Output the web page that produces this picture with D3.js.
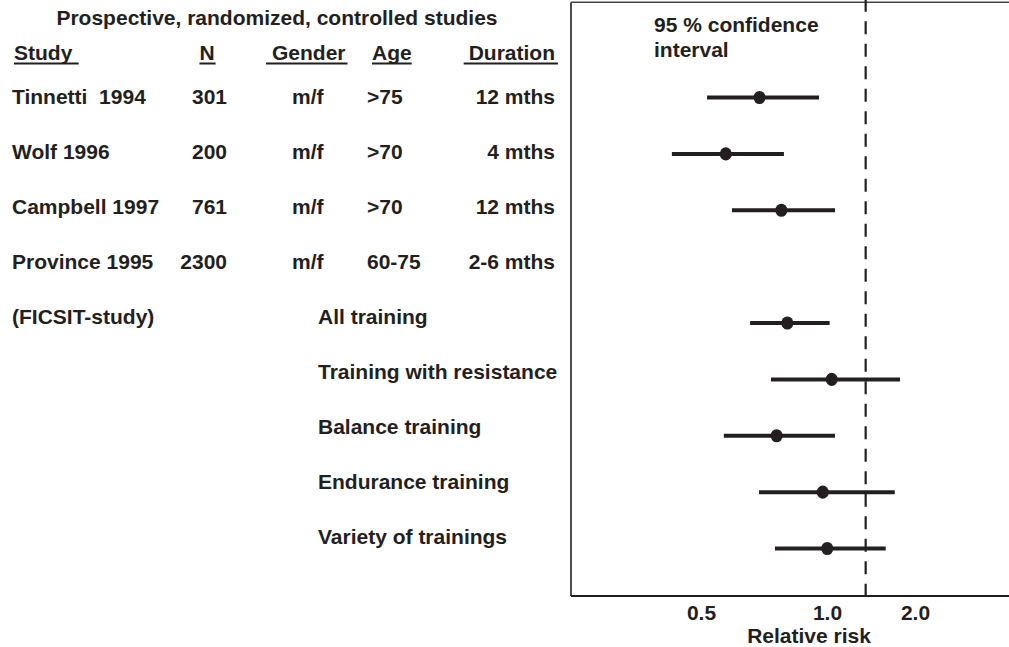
<!DOCTYPE html>
<html>
<head>
<meta charset="utf-8">
<script src="https://cdn.jsdelivr.net/npm/d3@7"></script>
<style>
  html, body { margin: 0; padding: 0; background: #fff; }
  svg text { font-family: "Liberation Sans", Arial, Helvetica, sans-serif; font-weight: bold; font-size: 21px; fill: #231f20; white-space: pre; }
</style>
</head>
<body>
<svg id="chart" width="1009" height="647"></svg>
<script>
// ---------- data ----------
const title = "Prospective, randomized, controlled studies";
const headers = ["Study", "N", "Gender", "Age", "Duration"];
const studies = ["Tinnetti  1994", "Wolf 1996", "Campbell 1997", "Province 1995"];
const nValues = ["301", "200", "761", "2300"];
const genders = ["m/f", "m/f", "m/f", "m/f"];
const ages = [">75", ">70", ">70", "60-75"];
const durations = ["12 mths", "4 mths", "12 mths", "2-6 mths"];
const subgroupNote = "(FICSIT-study)";
const subgroups = ["All training", "Training with resistance", "Balance training", "Endurance training", "Variety of trainings"];

// estimates shown in the forest plot (Province 1995 itself has no bar, its subgroups do)
const ciRows = ["Tinnetti  1994", "Wolf 1996", "Campbell 1997", "All training", "Training with resistance", "Balance training", "Endurance training", "Variety of trainings"];
const rr    = [0.690, 0.573, 0.778, 0.804, 1.038, 0.758, 0.977, 1.002];
const lower = [0.517, 0.426, 0.593, 0.655, 0.735, 0.567, 0.688, 0.751];
const upper = [0.957, 0.789, 1.065, 1.021, 1.777, 1.065, 1.705, 1.588];
const refValue = 1.356;
const tickValues = [0.5, 1.0, 2.0];
const ciLabelLines = ["95 % confidence", "interval"];
const xAxisTitle = "Relative risk";

// ---------- layout ----------
const W = 1009, H = 647;
const ink = "#231f20";
const panel = { left: 571, top: 2.3, bottom: 596, right: W };
const svg = d3.select("#chart");

const rows = studies.concat(subgroups);
const tableY = d3.scalePoint().domain(rows).range([104, 544]);
const ciY = d3.scalePoint().domain(rows).range([97.5, 548.5]);
// the printed axis is not evenly logarithmic: piecewise log scale through the tick labels
const x = d3.scaleLog().domain(tickValues).range([701, 827, 915]);

// ---------- table ----------
svg.append("text").attr("x", 277).attr("y", 25).attr("text-anchor", "middle").text(title);

const headerCols = [
  { x: 14, anchor: "start", padL: 0, padR: 6 },
  { x: 207, anchor: "middle", padL: 0, padR: 1 },
  { x: 272, anchor: "start", padL: 6, padR: 2 },
  { x: 372, anchor: "start", padL: 0, padR: 0 },
  { x: 555, anchor: "end", padL: 5, padR: 3 }
];
const headerBaseline = 60;
headers.forEach((h, i) => {
  const c = headerCols[i];
  const t = svg.append("text").attr("x", c.x).attr("y", headerBaseline).attr("text-anchor", c.anchor).text(h);
  const bb = t.node().getBBox();
  svg.append("line")
    .attr("x1", bb.x - c.padL).attr("x2", bb.x + bb.width + c.padR)
    .attr("y1", headerBaseline + 3.5).attr("y2", headerBaseline + 3.5)
    .attr("stroke", ink).attr("stroke-width", 2);
});

const cols = [
  { vals: studies, x: 12, anchor: "start" },
  { vals: nValues, x: 227, anchor: "end" },
  { vals: genders, x: 292, anchor: "start" },
  { vals: ages, x: 367, anchor: "start" },
  { vals: durations, x: 555, anchor: "end" }
];
cols.forEach(c => {
  svg.append("g").selectAll("text").data(c.vals).join("text")
    .attr("x", c.x).attr("y", (d, i) => tableY(studies[i]))
    .attr("text-anchor", c.anchor).text(d => d);
});
svg.append("text").attr("x", 12).attr("y", tableY(subgroups[0])).text(subgroupNote);
svg.append("g").selectAll("text").data(subgroups).join("text")
  .attr("x", 318).attr("y", d => tableY(d)).text(d => d);

// ---------- plot panel ----------
const frame = svg.append("g").attr("stroke", ink).attr("fill", "none");
frame.append("line").attr("x1", panel.left).attr("x2", panel.left).attr("y1", panel.top).attr("y2", panel.bottom).attr("stroke-width", 1.6);
frame.append("line").attr("x1", panel.left).attr("x2", panel.right).attr("y1", panel.top).attr("y2", panel.top).attr("stroke-width", 1.6).attr("stroke", "#444");

svg.append("line")
  .attr("x1", x(refValue)).attr("x2", x(refValue))
  .attr("y1", 0).attr("y2", panel.bottom)
  .attr("stroke", ink).attr("stroke-width", 2.2)
  .attr("stroke-dasharray", "13 9.5").attr("stroke-dashoffset", 1.3);

const ci = svg.append("g");
ci.selectAll("line").data(ciRows).join("line")
  .attr("x1", (d, i) => x(lower[i])).attr("x2", (d, i) => x(upper[i]))
  .attr("y1", d => ciY(d)).attr("y2", d => ciY(d))
  .attr("stroke", ink).attr("stroke-width", 4);
ci.selectAll("ellipse").data(ciRows).join("ellipse")
  .attr("cx", (d, i) => x(rr[i])).attr("cy", d => ciY(d))
  .attr("rx", 6).attr("ry", 6.6).attr("fill", ink);

svg.append("g").selectAll("text").data(ciLabelLines).join("text")
  .attr("x", 654).attr("y", (d, i) => 31.7 + i * 25.6).text(d => d);

// x axis
const axis = svg.append("g").attr("transform", `translate(0,${panel.bottom})`)
  .call(d3.axisBottom(x).tickValues(tickValues).tickFormat(d3.format(".1f")).tickSize(0));
axis.select(".domain").remove();
axis.selectAll("text").attr("dy", null).attr("y", 24)
  .style("font-size", "21px").style("font-family", "'Liberation Sans', Arial, sans-serif").style("font-weight", "bold").attr("fill", ink);
svg.append("line").attr("x1", panel.left).attr("x2", panel.right)
  .attr("y1", panel.bottom).attr("y2", panel.bottom).attr("stroke", ink).attr("stroke-width", 2);

svg.append("text").attr("x", 809).attr("y", 643).attr("text-anchor", "middle").text(xAxisTitle);
</script>
</body>
</html>
